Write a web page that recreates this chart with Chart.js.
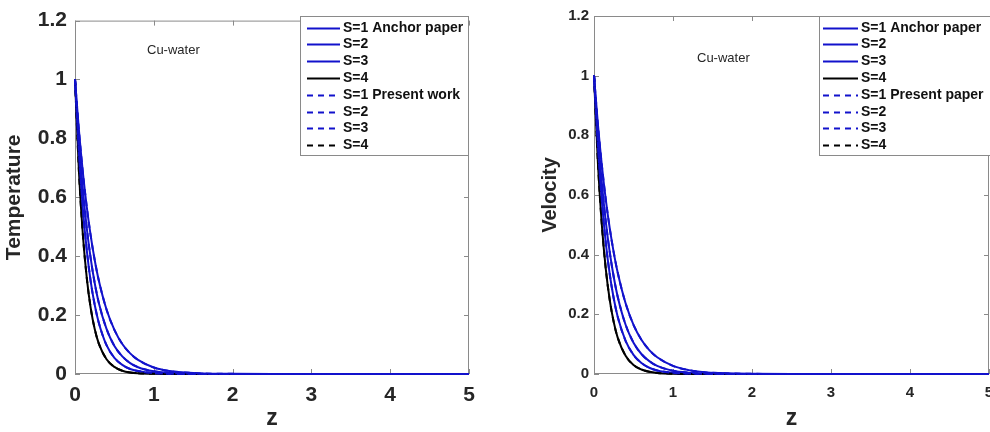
<!DOCTYPE html>
<html>
<head>
<meta charset="utf-8">
<script src="https://cdn.jsdelivr.net/npm/chart.js@4.4.1/dist/chart.umd.min.js"></script>
<style>
  html,body{margin:0;padding:0;background:#fff;}
  #wrap{position:relative;width:990px;height:432px;overflow:hidden;}
  canvas{position:absolute;top:0;}
</style>
</head>
<body>
<div id="wrap">
  <canvas id="tempChart" width="480" height="432" style="left:0"></canvas>
  <canvas id="velChart" width="490" height="432" style="left:500px"></canvas>
</div>
<script>
// z grid and profiles
const zValues=[0,0.05,0.1,0.15,0.2,0.25,0.3,0.4,0.5,0.6,0.7,0.8,1.0,1.2,1.4,1.6,1.8,2.0,2.5,3,3.5,4,4.5,5];

const tempS1=[1,0.827,0.684,0.566,0.468,0.387,0.320,0.219,0.150,0.102,0.070,0.048,0.022,0.010,0.005,0.002,0.001,0.0005,0,0,0,0,0,0];
const tempS2=[1,0.791,0.625,0.494,0.391,0.309,0.244,0.153,0.095,0.060,0.037,0.023,0.009,0.004,0.0014,0.0005,0.0002,0,0,0,0,0,0,0];
const tempS3=[1,0.748,0.560,0.419,0.313,0.235,0.176,0.098,0.055,0.031,0.017,0.010,0.003,0.001,0.0003,0,0,0,0,0,0,0,0,0];
const tempS4=[1,0.687,0.472,0.325,0.223,0.153,0.105,0.050,0.024,0.011,0.005,0.0025,0.0006,0,0,0,0,0,0,0,0,0,0,0];

const velS1=[1,0.835,0.698,0.583,0.487,0.407,0.340,0.237,0.165,0.115,0.080,0.056,0.027,0.013,0.006,0.003,0.0015,0.0007,0,0,0,0,0,0];
const velS2=[1,0.799,0.638,0.509,0.407,0.325,0.259,0.165,0.105,0.067,0.043,0.027,0.011,0.0045,0.0018,0.0007,0.0003,0,0,0,0,0,0,0];
const velS3=[1,0.760,0.577,0.438,0.333,0.253,0.192,0.111,0.064,0.037,0.021,0.012,0.004,0.0014,0.0005,0,0,0,0,0,0,0,0,0];
const velS4=[1,0.705,0.497,0.350,0.247,0.174,0.122,0.061,0.030,0.015,0.0074,0.0037,0.0009,0,0,0,0,0,0,0,0,0,0,0];

const tempLabels=['S=1 Anchor paper','S=2','S=3','S=4','S=1 Present work','S=2','S=3','S=4'];
const velLabels=['S=1 Anchor paper','S=2','S=3','S=4','S=1 Present paper','S=2','S=3','S=4'];
const xTicks=[0,1,2,3,4,5];
const yTicks=[0,0.2,0.4,0.6,0.8,1,1.2];

const BLUE='#1212cc', BLACK='#000000', AXIS='#8a8a8a', TXT='#262626';
const FONT='"Liberation Sans", Arial, sans-serif';

function makeDatasets(series, labels){
  const sets=[];
  // solid = anchor paper, dashed = present work (same curves, drawn on top)
  [false,true].forEach(dashed=>{
    series.forEach((vals,i)=>{
      sets.push({
        label: labels[i+(dashed?4:0)],
        data: zValues.map((z,j)=>({x:z,y:vals[j]})),
        borderColor: i===3?BLACK:BLUE,
        borderWidth: 2,
        borderDash: dashed?[6,5]:[],
        pointRadius: 0,
        cubicInterpolationMode: 'monotone',
        order: dashed?1:2,
        clip: 4
      });
    });
  });
  return sets;
}

// MATLAB style box, inward ticks, boxed legend, text note
const framePlugin={
  id:'frame',
  beforeDatasetsDraw(chart,args,opts){
    const {ctx,chartArea:a,scales:{x,y}}=chart;
    ctx.save();
    ctx.strokeStyle=AXIS; ctx.lineWidth=1;
    ctx.strokeRect(a.left+0.5,a.top+0.5,a.right-a.left-1,a.bottom-a.top-1);
    ctx.beginPath();
    xTicks.forEach(v=>{
      const px=Math.round(x.getPixelForValue(v))+0.5;
      ctx.moveTo(px,a.bottom); ctx.lineTo(px,a.bottom-5);
      ctx.moveTo(px,a.top); ctx.lineTo(px,a.top+5);
    });
    yTicks.forEach(v=>{
      const py=Math.round(y.getPixelForValue(v))+0.5;
      ctx.moveTo(a.left,py); ctx.lineTo(a.left+5,py);
      ctx.moveTo(a.right,py); ctx.lineTo(a.right-5,py);
    });
    ctx.stroke();
    ctx.restore();
  },
  afterDraw(chart,args,opts){
    const ctx=chart.ctx, b=opts.box;
    ctx.save();
    ctx.fillStyle='#fff';
    ctx.fillRect(b.x,b.y,b.w,b.h);
    ctx.strokeStyle=AXIS; ctx.lineWidth=1;
    ctx.strokeRect(b.x+0.5,b.y+0.5,b.w,b.h);
    ctx.font='bold 14px '+FONT;
    ctx.textBaseline='middle';
    chart.data.datasets.forEach((ds,i)=>{
      const ry=Math.round(b.y+11.5+i*16.8)+0.5;
      ctx.strokeStyle=ds.borderColor; ctx.lineWidth=2;
      ctx.setLineDash(ds.borderDash);
      ctx.beginPath(); ctx.moveTo(opts.line0,ry); ctx.lineTo(opts.line1,ry); ctx.stroke();
      ctx.setLineDash([]);
      ctx.fillStyle='#111';
      ctx.fillText(ds.label,opts.line1+3,ry);
    });
    ctx.font='13px '+FONT;
    ctx.fillStyle=TXT;
    ctx.fillText(opts.note.text,opts.note.x,opts.note.y);
    ctx.restore();
  }
};

function makeChart(id,series,labels,cfg){
  return new Chart(document.getElementById(id),{
    type:'line',
    data:{datasets:makeDatasets(series,labels)},
    options:{
      responsive:false,
      animation:false,
      layout:{padding:{top:16,right:cfg.padRight,left:0,bottom:0}},
      plugins:{
        legend:{display:false},
        tooltip:{enabled:false},
        frame:{box:cfg.box,line0:cfg.line0,line1:cfg.line1,note:cfg.note}
      },
      scales:{
        x:{
          type:'linear',min:0,max:5,
          afterFit(s){ s.height=58; s.paddingLeft=0; s.paddingRight=0; },
          afterBuildTicks(s){ s.ticks=xTicks.map(v=>({value:v})); },
          grid:{display:false,drawTicks:false,tickLength:0},
          border:{display:false},
          ticks:{font:{family:FONT,size:cfg.tickSize,weight:'bold'},color:TXT,padding:cfg.xTickPad,maxRotation:0,
                 callback:v=>String(v)},
          title:{display:true,text:'z',color:TXT,font:{family:FONT,size:23,weight:'bold'},padding:{top:0,bottom:cfg.zPad}}
        },
        y:{
          min:0,max:1.2,
          afterFit(s){ s.width=cfg.yWidth; },
          afterBuildTicks(s){ s.ticks=yTicks.map(v=>({value:v})); },
          grid:{display:false,drawTicks:false,tickLength:0},
          border:{display:false},
          ticks:{font:{family:FONT,size:cfg.tickSize,weight:'bold'},color:TXT,padding:cfg.yTickPad,
                 callback:v=>String(Math.round(v*10)/10)},
          title:{display:true,text:cfg.yTitle,color:TXT,font:{family:FONT,size:cfg.yTitleSize,weight:'bold'},padding:{top:cfg.yTitlePad,bottom:0}}
        }
      }
    },
    plugins:[framePlugin]
  });
}

makeChart('tempChart',[tempS1,tempS2,tempS3,tempS4],tempLabels,{
  padRight:11, yWidth:75, tickSize:21, xTickPad:9, yTickPad:8, zPad:0,
  yTitle:'Temperature', yTitleSize:21, yTitlePad:2,
  box:{x:300,y:16,w:168,h:139}, line0:307, line1:340,
  note:{text:'Cu-water',x:147,y:50}
});

makeChart('velChart',[velS1,velS2,velS3,velS4],velLabels,{
  padRight:1, yWidth:94, tickSize:15, xTickPad:10, yTickPad:5, zPad:0,
  yTitle:'Velocity', yTitleSize:20, yTitlePad:38,
  box:{x:319,y:16,w:175,h:139}, line0:323, line1:358,
  note:{text:'Cu-water',x:197,y:58}
});
</script>
</body>
</html>
